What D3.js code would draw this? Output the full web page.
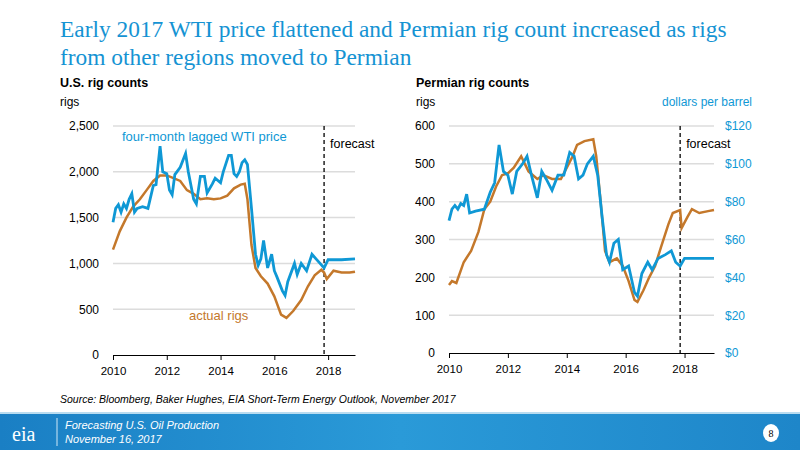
<!DOCTYPE html>
<html>
<head>
<meta charset="utf-8">
<script src="https://d3js.org/d3.v7.min.js"></script>
<style>
body { margin:0; background:#fff; }
text { font-family: "Liberation Sans", Arial, sans-serif; }
</style>
</head>
<body>
<svg id="chart" width="800" height="450"></svg>
<script>
// U.S. rigs (decimal year, rigs)
var usRigX = [2010,2010.25,2010.5,2010.75,2011,2011.25,2011.5,2011.75,2012,2012.25,2012.5,2012.75,2013,2013.25,2013.5,2013.75,2014,2014.25,2014.5,2014.75,2014.9,2015,2015.15,2015.3,2015.5,2015.75,2016,2016.25,2016.45,2016.7,2017,2017.25,2017.5,2017.75,2017.85,2017.95,2018.2,2018.5,2018.8,2019];
var usRigY = [1150,1350,1500,1620,1700,1800,1900,1960,1960,1930,1900,1800,1760,1700,1710,1700,1710,1740,1820,1860,1870,1700,1200,950,860,780,640,440,405,480,600,750,870,930,900,830,920,900,900,910];
// U.S. four-month lagged WTI, drawn in rig units
var usWtiX = [2010,2010.1,2010.2,2010.3,2010.4,2010.5,2010.6,2010.7,2010.8,2010.9,2011.1,2011.3,2011.5,2011.6,2011.75,2011.85,2012,2012.1,2012.2,2012.3,2012.5,2012.7,2012.8,2013,2013.1,2013.25,2013.4,2013.5,2013.7,2013.8,2014,2014.1,2014.3,2014.4,2014.5,2014.6,2014.7,2014.8,2014.9,2015,2015.15,2015.3,2015.4,2015.5,2015.6,2015.75,2015.9,2016,2016.1,2016.3,2016.4,2016.5,2016.75,2016.85,2017,2017.2,2017.4,2017.55,2017.7,2017.85,2018,2018.5,2019];
var usWtiY = [1450,1600,1640,1560,1650,1600,1700,1760,1560,1600,1620,1600,1850,1860,2280,2000,1980,1800,1750,1970,2050,2200,2000,1700,1650,1950,1950,1770,1870,1930,1880,2000,2180,2180,1980,1950,2000,2100,2130,2080,1600,1100,980,1050,1250,950,1100,920,850,700,650,800,1000,880,1000,920,1100,1050,1000,950,1040,1040,1050];
// Permian rigs
var pRigX = [2010,2010.1,2010.25,2010.5,2010.75,2011,2011.2,2011.4,2011.6,2011.8,2012,2012.2,2012.45,2012.7,2013,2013.2,2013.5,2013.8,2014,2014.2,2014.35,2014.6,2014.9,2015,2015.15,2015.3,2015.45,2015.7,2015.9,2016.1,2016.3,2016.4,2016.6,2016.8,2017,2017.2,2017.45,2017.6,2017.85,2017.9,2018.1,2018.25,2018.5,2018.8,2019];
var pRigY = [180,190,185,240,270,320,380,400,440,470,475,490,520,480,460,470,460,460,490,520,550,560,565,520,400,270,240,250,230,190,140,135,165,200,230,280,340,370,378,330,360,380,370,375,378];
// Permian lagged WTI, dollars per barrel
var pWtiX = [2010,2010.1,2010.2,2010.3,2010.4,2010.5,2010.6,2010.7,2010.9,2011.2,2011.4,2011.55,2011.7,2011.85,2012,2012.15,2012.3,2012.5,2012.65,2012.8,2013,2013.15,2013.3,2013.5,2013.7,2013.9,2014,2014.1,2014.25,2014.4,2014.55,2014.7,2014.9,2015.05,2015.2,2015.35,2015.45,2015.6,2015.75,2015.9,2016.1,2016.3,2016.4,2016.55,2016.75,2016.9,2017.1,2017.35,2017.55,2017.7,2017.85,2018,2018.5,2019];
var pWtiY = [70,76,78,76,79,78,84,74,75,76,85,90,110,96,94,84,96,100,104,94,82,96,92,86,94,94,100,106,104,92,94,100,104,94,72,52,48,58,60,44,46,32,30,42,48,44,50,52,54,48,46,50,50,50];

var xTicks = [2010,2012,2014,2016,2018];
var forecastX = 2017.85;
var orange = "#c4782b", blue = "#0f98d5";

var svg = d3.select("#chart");

// title
var title = ["Early 2017 WTI price flattened and Permian rig count increased as rigs","from other regions moved to Permian"];
svg.selectAll(".ttl").data(title).enter().append("text")
  .attr("x", 60).attr("y", function(d,i){ return 37 + i*28; })
  .style("font-family","'Liberation Serif', serif").style("font-size","23.4px").attr("fill", "#1593d3")
  .text(function(d){ return d; });

function panel(o) {
  var g = svg.append("g");
  var x = d3.scaleLinear().domain([2010,2019]).range([o.x0, o.x1]);
  var y = d3.scaleLinear().domain([0, o.ymax]).range([o.y0, o.y1]);
  g.append("text").attr("x", o.tx).attr("y", 87).style("font-size","12.5px").style("font-weight","bold").text(o.title);
  g.append("text").attr("x", o.tx).attr("y", 106).style("font-size","12px").text("rigs");
  g.selectAll(".gl").data(o.yTicks.slice(1)).enter().append("line")
    .attr("x1", o.x0).attr("x2", o.x1).attr("y1", y).attr("y2", y)
    .attr("stroke", "#dcdcdc").attr("stroke-width", 1.5);
  var ya = g.append("g").attr("transform","translate(" + (o.x0 - 11) + ",0)")
    .call(d3.axisLeft(y).tickValues(o.yTicks).tickSize(0).tickFormat(d3.format(",")));
  ya.select(".domain").remove();
  ya.selectAll("text").style("font-size","12px").style("font-family","'Liberation Sans', Arial");
  var xa = g.append("g").attr("transform","translate(0," + o.y0 + ")")
    .call(d3.axisBottom(x).tickValues(xTicks).tickSize(5).tickPadding(7).tickSizeOuter(0).tickFormat(d3.format("d")));
  xa.select(".domain").attr("stroke","#000");
  xa.selectAll("text").style("font-size","11.5px").style("font-family","'Liberation Sans', Arial");
  g.append("line").attr("x1", x(forecastX)).attr("x2", x(forecastX)).attr("y1", y(o.ymax)).attr("y2", o.y0)
    .attr("stroke","#000").attr("stroke-dasharray","4,3").attr("stroke-width",1.3);
  g.append("text").attr("x", x(forecastX) + 6).attr("y", 148).style("font-size","12.5px").text("forecast");
  var line = d3.line().x(function(d){ return x(d[0]); }).y(function(d){ return y(d[1]); });
  g.append("path").datum(d3.zip(o.rigX, o.rigY)).attr("d", line).attr("fill","none").attr("stroke", orange).attr("stroke-width", 2.5);
  var wy = o.wtiScale || 1;
  g.append("path").datum(d3.zip(o.wtiX, o.wtiY.map(function(v){ return v*wy; }))).attr("d", line)
    .attr("fill","none").attr("stroke", blue).attr("stroke-width", 2.8);
  return {x:x, y:y, g:g};
}

var L = panel({x0:113, x1:355, y0:355, y1:126, ymax:2500, yTicks:[0,500,1000,1500,2000,2500],
  tx:60, title:"U.S. rig counts", rigX:usRigX, rigY:usRigY, wtiX:usWtiX, wtiY:usWtiY});
L.g.append("text").attr("x",122).attr("y",141).attr("fill",blue).style("font-size","13px").text("four-month lagged WTI price");
L.g.append("text").attr("x",189).attr("y",320).attr("fill",orange).style("font-size","13px").text("actual rigs");

var R = panel({x0:449, x1:714, y0:353, y1:126, ymax:600, yTicks:[0,100,200,300,400,500,600],
  tx:416, title:"Permian rig counts", rigX:pRigX, rigY:pRigY, wtiX:pWtiX, wtiY:pWtiY, wtiScale:5});
var yR = d3.scaleLinear().domain([0,120]).range([353,126]);
var ra = R.g.append("g").attr("transform","translate(722,0)")
  .call(d3.axisRight(yR).tickValues([0,20,40,60,80,100,120]).tickSize(0).tickFormat(function(d){ return "$" + d; }));
ra.select(".domain").remove();
ra.selectAll("text").attr("fill", blue).style("font-size","12px").style("font-family","'Liberation Sans', Arial");
R.g.append("text").attr("x",752).attr("y",106).attr("text-anchor","end").attr("fill",blue).style("font-size","12px").text("dollars per barrel");

// source
svg.append("text").attr("x",60).attr("y",403).style("font-size","10.5px").style("font-style","italic")
  .text("Source: Bloomberg, Baker Hughes, EIA Short-Term Energy Outlook, November 2017");

// footer band
var grad = svg.append("defs").append("linearGradient").attr("id","fg").attr("x1","0").attr("x2","1");
grad.append("stop").attr("offset","0").attr("stop-color","#1a7fc4");
grad.append("stop").attr("offset","0.5").attr("stop-color","#2a9ad8");
grad.append("stop").attr("offset","1").attr("stop-color","#1e86c9");
svg.append("rect").attr("x",0).attr("y",414).attr("width",800).attr("height",36).attr("fill","url(#fg)");
svg.append("rect").attr("x",0).attr("y",412).attr("width",800).attr("height",2).attr("fill","#b9dcf0");
svg.append("text").attr("x",12).attr("y",441).attr("fill","#fff").style("font-family","'Liberation Serif', serif").style("font-size","20px").text("eia");
svg.append("line").attr("x1",57).attr("x2",57).attr("y1",418).attr("y2",446).attr("stroke","#cfe8f7");
var ft = ["Forecasting U.S. Oil Production","November 16, 2017"];
svg.selectAll(".ft").data(ft).enter().append("text").attr("x",65).attr("y",function(d,i){ return 429 + i*14; })
  .attr("fill","#fff").style("font-size","11px").style("font-style","italic").text(function(d){ return d; });
svg.append("ellipse").attr("cx",771).attr("cy",433).attr("rx",8).attr("ry",9).attr("fill","#fff");
svg.append("text").attr("x",771).attr("y",437).attr("text-anchor","middle").style("font-family","'Liberation Serif', serif").style("font-size","10px").text("8");
</script>
</body>
</html>
